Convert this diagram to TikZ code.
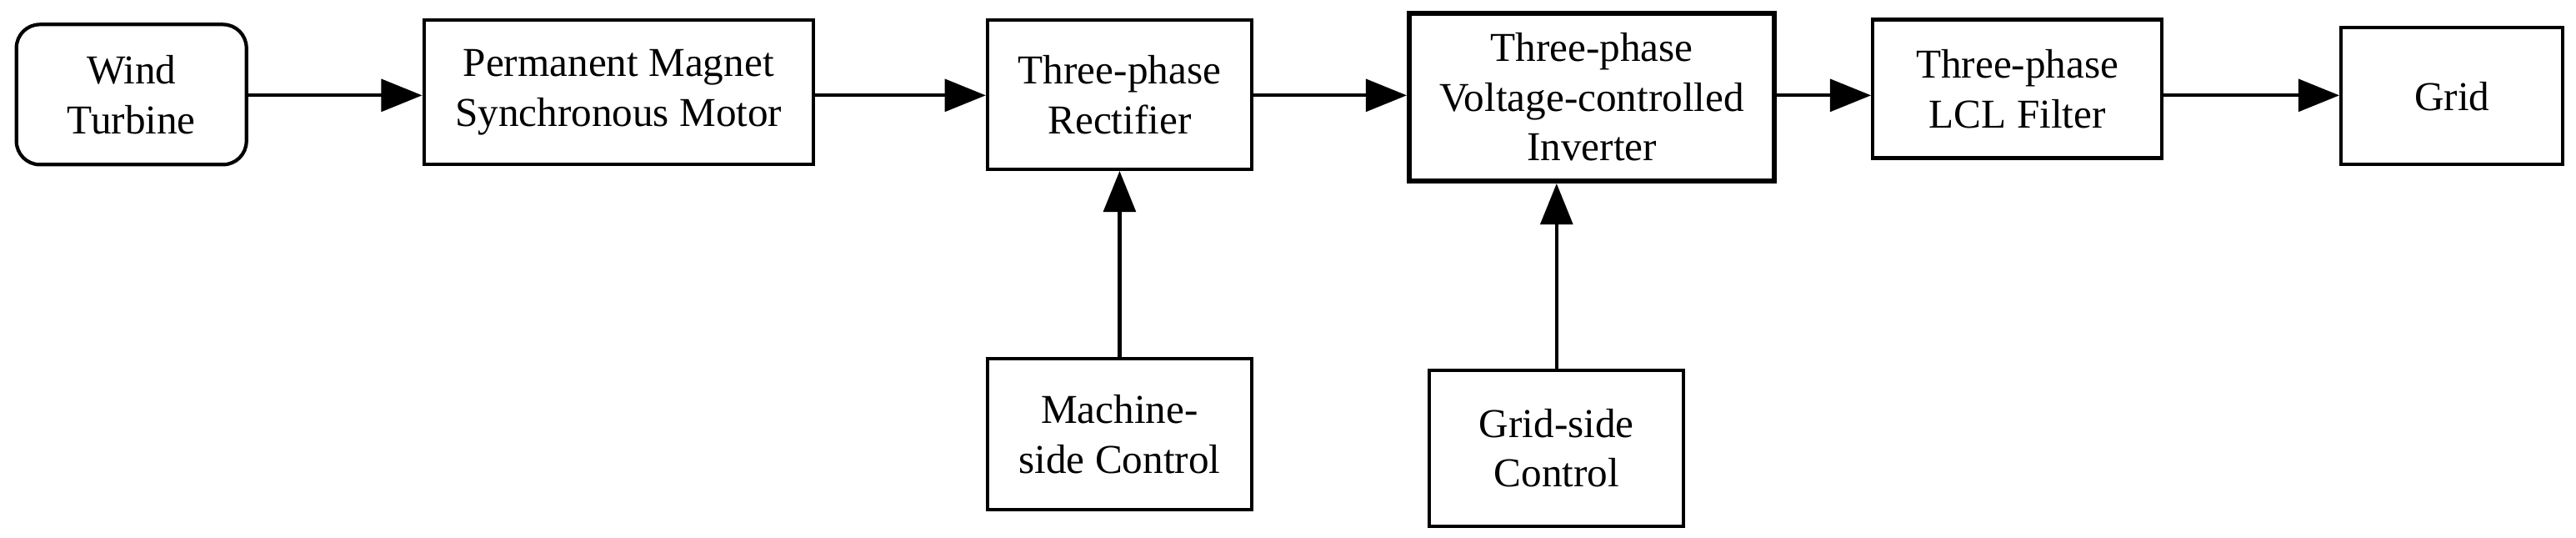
\documentclass[tikz,border=0pt]{standalone}
\usepackage{fontspec}
\setmainfont{Liberation Serif}
\usetikzlibrary{arrows.meta}
\begin{document}
\begin{tikzpicture}[x=0.01971cm,y=-0.01971cm,
  blk/.style={draw,line width=1.2pt,align=center,inner sep=0pt,font=\fontsize{14}{17}\selectfont},
  arr/.style={line width=1.2pt,-{Triangle[length=14pt,width=11pt]}}]
\useasboundingbox (0,0) rectangle (1568,327);
\node[blk,rounded corners=8pt,minimum width=2.76cm,minimum height=1.68cm] (wt) at (80,57.5) {Wind\\Turbine};
\node[blk,minimum width=4.67cm,minimum height=1.73cm] (pm) at (376.5,56) {Permanent Magnet\\Synchronous Motor};
\node[blk,minimum width=3.17cm,minimum height=1.79cm] (re) at (681.5,57.5) {Three-phase\\Rectifier};
\node[blk,line width=1.8pt,minimum width=4.38cm,minimum height=2.01cm] (in) at (969,59) {Three-phase\\Voltage-controlled\\Inverter};
\node[blk,minimum width=3.47cm,minimum height=1.66cm] (lc) at (1228,54) {Three-phase\\LCL Filter};
\node[blk,minimum width=2.66cm,minimum height=1.64cm] (gr) at (1492.5,58.5) {Grid};
\node[blk,minimum width=3.17cm,minimum height=1.81cm] (ms) at (681.5,264) {Machine-\\side Control};
\node[blk,minimum width=3.05cm,minimum height=1.87cm] (gs) at (947.5,272.5) {Grid-side\\Control};
\draw[arr] (wt.east|-0,58) -- (pm.west|-0,58);
\draw[arr] (pm.east|-0,58) -- (re.west|-0,58);
\draw[arr] (re.east|-0,58) -- (in.west|-0,58);
\draw[arr] (in.east|-0,58) -- (lc.west|-0,58);
\draw[arr] (lc.east|-0,58) -- (gr.west|-0,58);
\draw[arr] (ms.north) -- (re.south);
\draw[arr] (gs.north) -- (gs.north|-in.south);
\end{tikzpicture}
\end{document}
